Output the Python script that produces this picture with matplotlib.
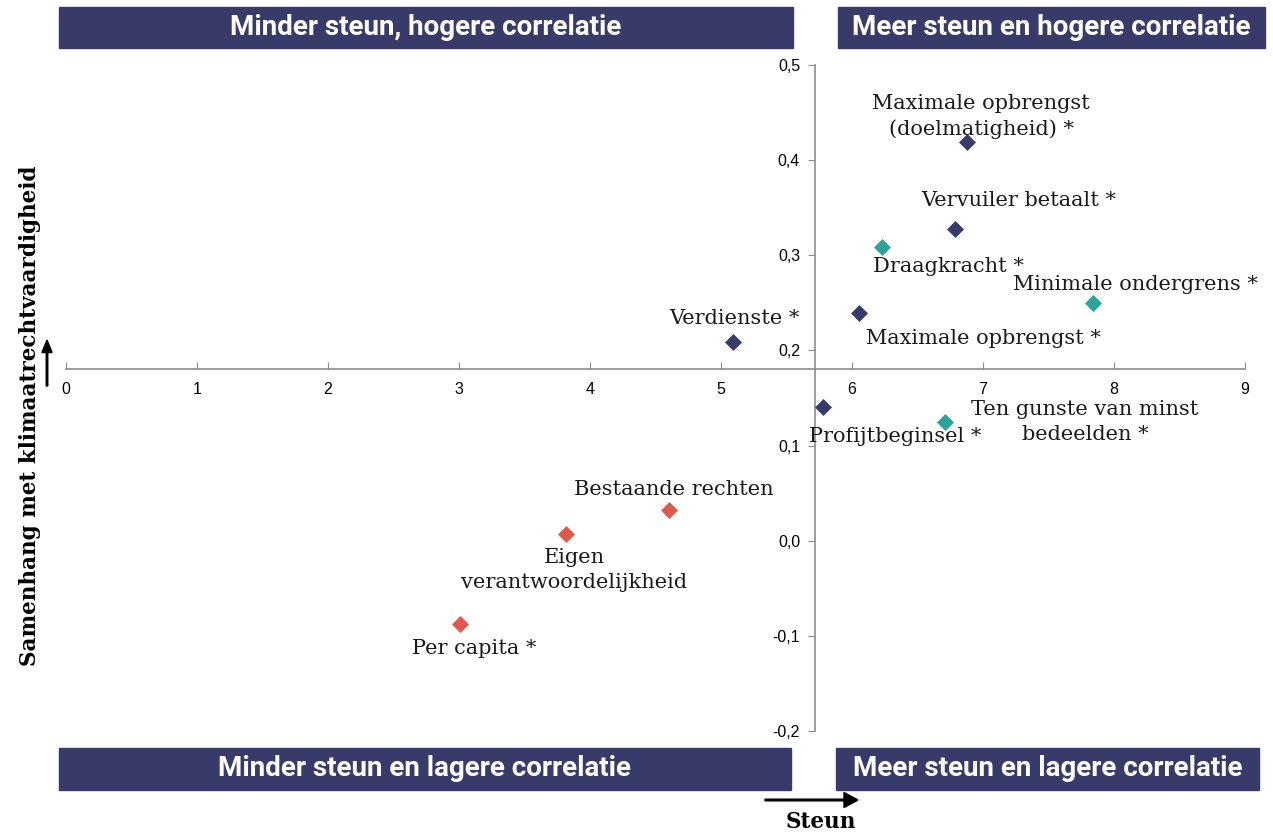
import matplotlib.pyplot as plt
from matplotlib.patches import Rectangle, FancyArrow

# principes: steun (x) en samenhang met klimaatrechtvaardigheid (y)
labels = ["Maximale opbrengst\n(doelmatigheid) *", "Vervuiler betaalt *", "Draagkracht *",
          "Minimale ondergrens *", "Maximale opbrengst *", "Verdienste *",
          "Profijtbeginsel *", "Ten gunste van minst\nbedeelden *", "Bestaande rechten",
          "Eigen\nverantwoordelijkheid", "Per capita *"]
steun = [6.88, 6.79, 6.23, 7.84, 6.05, 5.09, 5.78, 6.71, 4.60, 3.82, 3.01]
samenhang = [0.419, 0.328, 0.309, 0.250, 0.239, 0.209, 0.141, 0.125, 0.032, 0.007, -0.088]
groep = ["n", "n", "t", "t", "n", "n", "n", "t", "r", "r", "r"]
kleuren = {"n": "#383c6a", "t": "#2aa39a", "r": "#e0574b"}
# label-offsets in pixels
offsets = [(14, 26), (63, 28), (66, -20), (42, 18), (125, -25), (2, 23),
           (72, -30), (140, 0), (5, 21), (8, -36), (14, -24)]

x_kruis, y_kruis = 5.72, 0.18
banner = "#383b69"

fig = plt.figure(figsize=(12.73, 8.36), dpi=100)
W, H = 1273, 836
ax = fig.add_axes([66 / W, 1 - 731 / H, (1245 - 66) / W, (731 - 65) / H])
ax.set_xlim(0, 9)
ax.set_ylim(-0.2, 0.5)

ax.spines["right"].set_visible(False)
ax.spines["top"].set_visible(False)
ax.spines["left"].set_position(("data", x_kruis))
ax.spines["bottom"].set_position(("data", y_kruis))
for s in ("left", "bottom"):
    ax.spines[s].set_color("#8c8c8c")
    ax.spines[s].set_linewidth(1.2)

ax.set_xticks(range(10))
ax.set_yticks([-0.2, -0.1, 0.0, 0.1, 0.2, 0.3, 0.4, 0.5])
ax.set_yticklabels(["-0,2", "-0,1", "0,0", "0,1", "0,2", "0,3", "0,4", "0,5"])
ax.tick_params(axis="x", direction="in", length=5, color="#8c8c8c", pad=9,
               labelsize=11.5, labelfontfamily="Liberation Sans")
ax.tick_params(axis="y", direction="out", length=5, color="#8c8c8c", pad=6,
               labelsize=11.5, labelfontfamily="Liberation Sans")

for i in range(len(labels)):
    ax.scatter(steun[i], samenhang[i], marker="D", s=75, color=kleuren[groep[i]],
               zorder=3, linewidths=0)
    ax.annotate(labels[i], (steun[i], samenhang[i]), xytext=offsets[i],
                textcoords="offset pixels", ha="center", va="center",
                fontsize=15, family="DejaVu Serif", color="#1a1a1a",
                linespacing=1.4)

# kwadrant-balken
balken = [((59, 7, 793, 48), "Minder steun, hogere correlatie"),
          ((838, 7, 1265, 48), "Meer steun en hogere correlatie"),
          ((59, 748, 791, 790), "Minder steun en lagere correlatie"),
          ((836, 748, 1259, 790), "Meer steun en lagere correlatie")]
for (x0, y0, x1, y1), tekst in balken:
    fig.patches.append(Rectangle((x0 / W, 1 - y1 / H), (x1 - x0) / W, (y1 - y0) / H,
                                 transform=fig.transFigure, color=banner, zorder=0))
    fig.text((x0 + x1) / 2 / W, 1 - (y0 + y1) / 2 / H, tekst, ha="center", va="center",
             color="white", fontsize=20, fontweight="bold", family="Roboto")

# aslabels met pijlen
fig.text(30 / W, 1 - 416 / H, "Samenhang met klimaatrechtvaardigheid", rotation=90,
         ha="center", va="center", fontsize=15.5, fontweight="bold", family="DejaVu Serif")
fig.text(821 / W, 1 - 822 / H, "Steun", ha="center", va="center",
         fontsize=15.5, fontweight="bold", family="DejaVu Serif")
fig.patches.append(FancyArrow(
    47 / W, 1 - 386 / H, 0, 46 / H, width=0.0012, head_width=0.008,
    head_length=0.015, length_includes_head=True, color="black",
    transform=fig.transFigure))
fig.patches.append(FancyArrow(
    765 / W, 1 - 800 / H, 93 / W, 0, width=0.002, head_width=0.018,
    head_length=0.011, length_includes_head=True, color="black",
    transform=fig.transFigure))

fig.savefig("out.png", dpi=100)
